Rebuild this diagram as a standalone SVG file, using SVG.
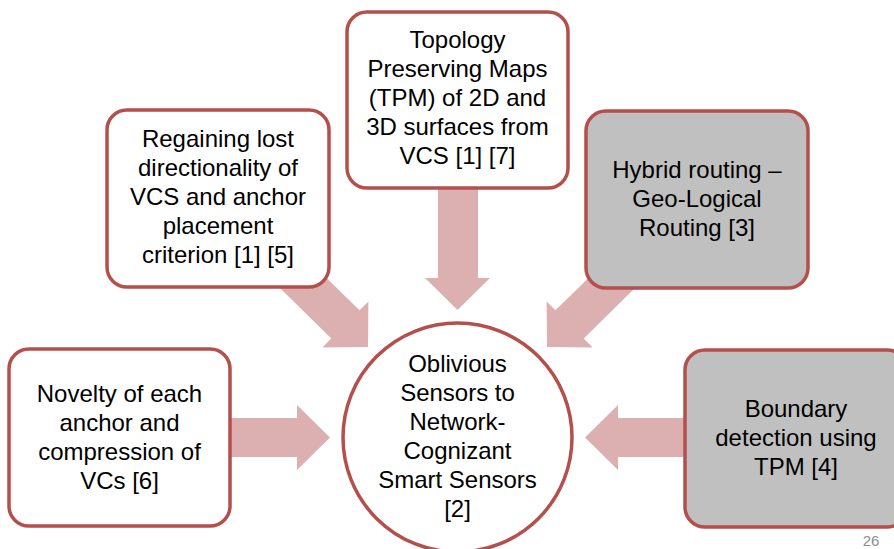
<svg xmlns="http://www.w3.org/2000/svg" width="894" height="549" viewBox="0 0 894 549">
<style>
.box{fill:#ffffff;stroke:#b44f4c;stroke-width:3.5}
.gray{fill:#c0c0c0}
.arr{fill:#dcb0b0;stroke:none}
.t{font-family:"Liberation Sans",Arial,sans-serif;font-size:24px;fill:#000;text-anchor:middle}
.pg{font-family:"Liberation Sans",Arial,sans-serif;font-size:15px;fill:#8c8c8c;text-anchor:middle}
</style>
<rect width="894" height="549" fill="#ffffff"/>
<g id="connectors">
  <!-- left box to circle -->
  <polygon class="arr" points="220,418 297,418 297,405 330,437.5 297,470 297,457 220,457"/>
  <!-- top box to circle -->
  <polygon class="arr" points="438,180 478,180 478,278 490,278 457.5,310 425,278 438,278"/>
  <!-- upper-left box to circle -->
  <polygon class="arr" points="275.9,284.1 331.3,338.5 322.4,347.4 368,347 368.4,301.4 359.5,310.3 304.1,255.9"/>
  <!-- upper-right box to circle -->
  <polygon class="arr" points="639.1,284.1 583.7,338.5 592.6,347.4 547,347 546.6,301.4 555.5,310.3 610.9,255.9"/>
  <!-- right box to circle -->
  <polygon class="arr" points="695,418 618,418 618,405 585,437.5 618,470 618,457 695,457"/>
</g>
<g id="node-novelty">
  <rect class="box" x="9" y="349" width="221" height="177" rx="20"/>
  <text class="t" x="119.5" y="402">Novelty of each</text>
  <text class="t" x="119.5" y="431">anchor and</text>
  <text class="t" x="119.5" y="460">compression of</text>
  <text class="t" x="119.5" y="489">VCs [6]</text>
</g>
<g id="node-regaining">
  <rect class="box" x="107" y="110" width="222" height="177" rx="20"/>
  <text class="t" x="218" y="147">Regaining lost</text>
  <text class="t" x="218" y="176">directionality of</text>
  <text class="t" x="218" y="205">VCS and anchor</text>
  <text class="t" x="218" y="234">placement</text>
  <text class="t" x="218" y="263">criterion [1] [5]</text>
</g>
<g id="node-topology">
  <rect class="box" x="347" y="12" width="221" height="176" rx="20"/>
  <text class="t" x="457.5" y="48">Topology</text>
  <text class="t" x="457.5" y="77">Preserving Maps</text>
  <text class="t" x="457.5" y="106">(TPM) of 2D and</text>
  <text class="t" x="457.5" y="135">3D surfaces from</text>
  <text class="t" x="457.5" y="164">VCS [1] [7]</text>
</g>
<g id="node-hybrid">
  <rect class="box gray" x="586" y="111" width="222" height="177" rx="20"/>
  <text class="t" x="697" y="178">Hybrid routing –</text>
  <text class="t" x="697" y="207">Geo-Logical</text>
  <text class="t" x="697" y="236">Routing [3]</text>
</g>
<g id="node-boundary">
  <rect class="box gray" x="685" y="350" width="222" height="177" rx="20"/>
  <text class="t" x="796" y="417">Boundary</text>
  <text class="t" x="796" y="446">detection using</text>
  <text class="t" x="796" y="475">TPM [4]</text>
</g>
<g id="node-center">
  <circle class="box" cx="457.5" cy="437.5" r="114.5"/>
  <text class="t" x="457.5" y="372">Oblivious</text>
  <text class="t" x="457.5" y="401">Sensors to</text>
  <text class="t" x="457.5" y="430">Network-</text>
  <text class="t" x="457.5" y="459">Cognizant</text>
  <text class="t" x="457.5" y="488">Smart Sensors</text>
  <text class="t" x="457.5" y="517">[2]</text>
</g>
<text class="pg" x="871" y="546">26</text>
</svg>
